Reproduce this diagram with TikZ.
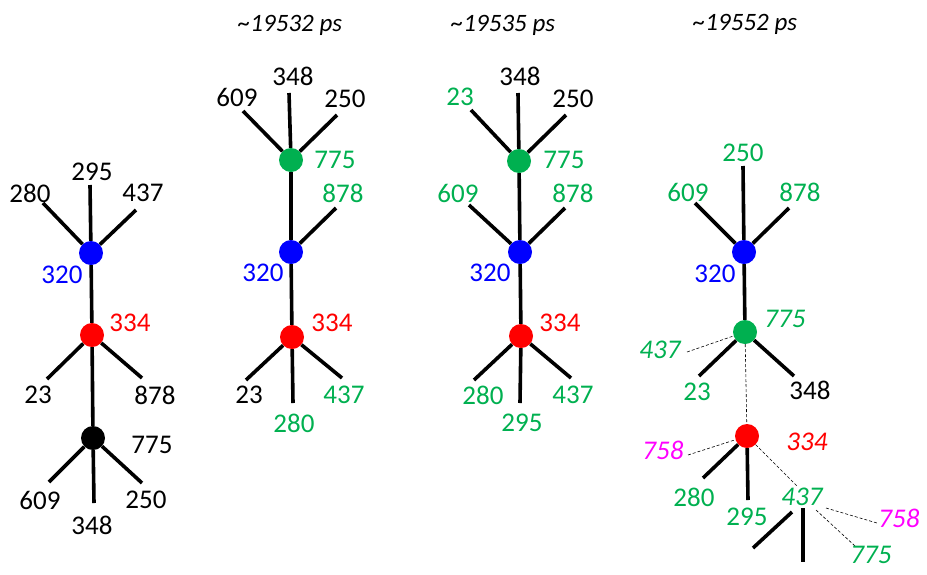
\documentclass[tikz,border=0pt]{standalone}
\usepackage{fontspec}
\setmainfont{Carlito}
\definecolor{leafgreen}{RGB}{0,176,80}
\definecolor{newmag}{RGB}{255,0,255}
\tikzset{
	bond/.style={line width=3.6pt},
	link/.style={line width=0.6pt, densely dashed},
	dot/.style={circle, inner sep=0pt, minimum size=24pt},
	time/.style={font=\fontsize{25}{28}\selectfont\itshape},
	slant/.style={font=\fontsize{27}{30}\selectfont\itshape}
}
\begin{document}
\begin{tikzpicture}[x=1pt, y=-1pt, font=\fontsize{27}{30}\selectfont]
	\useasboundingbox (0,0) rectangle (927,574);
	% tree at start
	\node[dot, fill=blue] (b1) at (91,253) {};
	\node[dot, fill=red] (r1) at (92,335) {};
	\node[dot, fill=black] (k1) at (93,438) {};
	\coordinate (a280) at (43,203);
	\coordinate (a295) at (90,185);
	\coordinate (a437) at (136,210);
	\coordinate (a23) at (47,379);
	\coordinate (a878) at (142,378);
	\coordinate (a609) at (49,482);
	\coordinate (a348) at (94,503);
	\coordinate (a250) at (142,483);
	\foreach \e in {a280,a295,a437} \draw[bond] (b1) -- (\e);
	\foreach \e in {a23,a878} \draw[bond] (r1) -- (\e);
	\foreach \e in {a609,a348,a250} \draw[bond] (k1) -- (\e);
	\draw[bond] (b1) -- (r1) -- (k1);
	\node (ta280) at (30,193) {280};
	\node (ta295) at (92,172) {295};
	\node (ta437) at (143,193) {437};
	\node[blue] (ta320) at (62,275) {320};
	\node[red] (ta334) at (130,323) {334};
	\node (ta23) at (38,395) {23};
	\node (ta878) at (155,395) {878};
	\node (ta775) at (152,445) {775};
	\node (ta609) at (40,500) {609};
	\node (ta348) at (92,525) {348};
	\node (ta250) at (146,500) {250};

	% ~19532 ps
	\node[time] (tit2) at (290,25) {\textasciitilde19532 ps};
	\node[dot, fill=leafgreen] (g2) at (291,160) {};
	\node[dot, fill=blue] (b2) at (291,252) {};
	\node[dot, fill=red] (r2) at (292,337) {};
	\coordinate (c609) at (243,111);
	\coordinate (c348) at (289,93);
	\coordinate (c250) at (337,115);
	\coordinate (c878) at (336,208);
	\coordinate (c23) at (246,380);
	\coordinate (c280) at (293,403);
	\coordinate (c437) at (342,378);
	\foreach \e in {c609,c348,c250} \draw[bond] (g2) -- (\e);
	\draw[bond] (b2) -- (c878);
	\foreach \e in {c23,c280,c437} \draw[bond] (r2) -- (\e);
	\draw[bond] (g2) -- (b2) -- (r2);
	\node (tc609) at (237,97) {609};
	\node (tc348) at (293,76) {348};
	\node (tc250) at (345,99) {250};
	\node[leafgreen] (tc775) at (335,160) {775};
	\node[leafgreen] (tc878) at (343,193) {878};
	\node[blue] (tc320) at (263,273) {320};
	\node[red] (tc334) at (332,323) {334};
	\node (tc23) at (249,395) {23};
	\node[leafgreen] (tc280) at (294,423) {280};
	\node[leafgreen] (tc437) at (344,395) {437};

	% ~19535 ps
	\node[time] (tit3) at (503,25) {\textasciitilde19535 ps};
	\node[dot, fill=leafgreen] (g3) at (519,161) {};
	\node[dot, fill=blue] (b3) at (520,252) {};
	\node[dot, fill=red] (r3) at (521,336) {};
	\coordinate (d23) at (471,110);
	\coordinate (d348) at (518,93);
	\coordinate (d250) at (566,115);
	\coordinate (d609) at (469,205);
	\coordinate (d878) at (565,208);
	\coordinate (d280) at (474,380);
	\coordinate (d295) at (520,403);
	\coordinate (d437) at (571,378);
	\foreach \e in {d23,d348,d250} \draw[bond] (g3) -- (\e);
	\foreach \e in {d609,d878} \draw[bond] (b3) -- (\e);
	\foreach \e in {d280,d295,d437} \draw[bond] (r3) -- (\e);
	\draw[bond] (g3) -- (b3) -- (r3);
	\node[leafgreen] (td23) at (460,97) {23};
	\node (td348) at (520,76) {348};
	\node (td250) at (573,99) {250};
	\node[leafgreen] (td775) at (564,160) {775};
	\node[leafgreen] (td609) at (458,193) {609};
	\node[leafgreen] (td878) at (573,193) {878};
	\node[blue] (td320) at (490,273) {320};
	\node[red] (td334) at (560,323) {334};
	\node[leafgreen] (td280) at (483,395) {280};
	\node[leafgreen] (td295) at (522,423) {295};
	\node[leafgreen] (td437) at (573,395) {437};

	% ~19552 ps
	\node[time] (tit4) at (745,24) {\textasciitilde19552 ps};
	\node[dot, fill=blue] (b4) at (744,252) {};
	\node[dot, fill=leafgreen] (g4) at (745,332) {};
	\node[dot, fill=red] (r4) at (747,436) {};
	\coordinate (e250) at (743,166);
	\coordinate (e609) at (695,203);
	\coordinate (e878) at (789,208);
	\coordinate (e23) at (699,376);
	\coordinate (e348) at (794,376);
	\coordinate (e280) at (703,478);
	\coordinate (e295) at (748,500);
	\coordinate (e437) at (687,352);
	\coordinate (e758) at (688,455);
	\coordinate (f437) at (798,487);
	\coordinate (f758a) at (826,508);
	\coordinate (f758b) at (877,523);
	\coordinate (f775a) at (816,510);
	\coordinate (f775b) at (855,546);
	\coordinate (h1a) at (792,512);
	\coordinate (h1b) at (753,548);
	\coordinate (h2a) at (803,508);
	\coordinate (h2b) at (803,562);
	\foreach \e in {e250,e609,e878} \draw[bond] (b4) -- (\e);
	\draw[bond] (b4) -- (g4);
	\foreach \e in {e23,e348} \draw[bond] (g4) -- (\e);
	\foreach \e in {e280,e295} \draw[bond] (r4) -- (\e);
	\draw[bond] (h1a) -- (h1b);
	\draw[bond] (h2a) -- (h2b);
	\draw[link] (e437) -- (g4);
	\draw[link] (g4) -- (r4);
	\draw[link] (e758) -- (r4);
	\draw[link] (r4) -- (f437);
	\draw[link] (f758a) -- (f758b);
	\draw[link] (f775a) -- (f775b);
	\node[leafgreen] (te250) at (743,153) {250};
	\node[leafgreen] (te609) at (688,192) {609};
	\node[leafgreen] (te878) at (800,192) {878};
	\node[blue] (te320) at (715,274) {320};
	\node[leafgreen, slant] (te775) at (785,319) {775};
	\node[leafgreen, slant] (te437) at (660,350) {437};
	\node[leafgreen] (te23) at (697,392) {23};
	\node (te348) at (810,390) {348};
	\node[red, slant] (te334) at (807,442) {334};
	\node[newmag, slant] (te758) at (663,450) {758};
	\node[leafgreen] (te280) at (694,497) {280};
	\node[leafgreen] (te295) at (747,517) {295};
	\node[leafgreen, slant] (tf437) at (802,497) {437};
	\node[newmag, slant] (tf758) at (899,518) {758};
	\node[leafgreen, slant] (tf775) at (871,555) {775};
\end{tikzpicture}
\end{document}
